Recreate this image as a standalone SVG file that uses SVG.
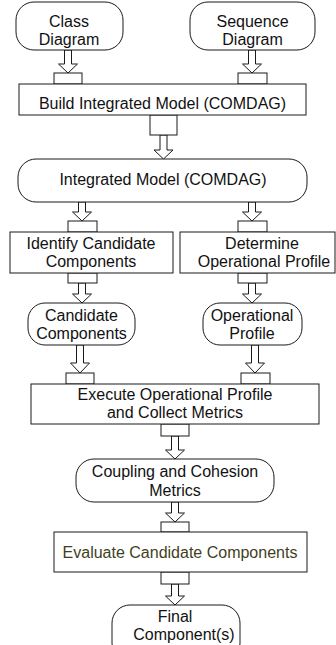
<svg xmlns="http://www.w3.org/2000/svg" width="336" height="645" viewBox="0 0 336 645">
  <style>
    .box { fill: #ffffff; stroke: #1a1a1a; stroke-width: 1; }
    .port { fill: #ffffff; stroke: #1a1a1a; stroke-width: 1; }
    .arrow { fill: #ffffff; stroke: #1a1a1a; stroke-width: 1; stroke-linejoin: miter; }
    text { font-family: "Liberation Sans", Arial, sans-serif; font-size: 16px; fill: #111111; text-anchor: middle; }
    text.olive { fill: #3f3f1e; }
  </style>
  <rect x="0" y="0" width="336" height="645" fill="#ffffff"/>

  <!-- block arrows between steps -->
  <g id="connectors">
    <polygon class="arrow" points="64.5,50 71.5,50 71.5,64 77.5,64 68,73 58.5,64 64.5,64"/>
    <polygon class="arrow" points="248.5,50 255.5,50 255.5,64 261.5,64 252,73 242.5,64 248.5,64"/>
    <polygon class="arrow" points="160,135 167,135 167,150 173,150 163.5,159 154,150 160,150"/>
    <polygon class="arrow" points="78.5,202 85.5,202 85.5,212 91.5,212 82,221 72.5,212 78.5,212"/>
    <polygon class="arrow" points="248.5,202 255.5,202 255.5,212 261.5,212 252,221 242.5,212 248.5,212"/>
    <polygon class="arrow" points="78.5,283 85.5,283 85.5,294 91.5,294 82,303 72.5,294 78.5,294"/>
    <polygon class="arrow" points="248.5,283 255.5,283 255.5,294 261.5,294 252,303 242.5,294 248.5,294"/>
    <polygon class="arrow" points="76.5,345 83.5,345 83.5,363 89.5,363 80,373 70.5,363 76.5,363"/>
    <polygon class="arrow" points="251.5,345 258.5,345 258.5,363 264.5,363 255,373 245.5,363 251.5,363"/>
    <polygon class="arrow" points="171.5,436 178.5,436 178.5,450 184.5,450 175,459 165.5,450 171.5,450"/>
    <polygon class="arrow" points="171.5,502 178.5,502 178.5,513 184.5,513 175,522 165.5,513 171.5,513"/>
    <polygon class="arrow" points="171.5,584 178.5,584 178.5,596 184.5,596 175,605 165.5,596 171.5,596"/>
  </g>

  <g id="class-diagram">
    <rect class="box" x="16" y="2" width="107" height="48" rx="18" ry="18"/>
    <text x="69" y="27">Class</text>
    <text x="69" y="45">Diagram</text>
  </g>

  <g id="sequence-diagram">
    <rect class="box" x="190" y="2" width="125" height="48" rx="18" ry="18"/>
    <text x="252.5" y="27">Sequence</text>
    <text x="252.5" y="45">Diagram</text>
  </g>

  <g id="build-integrated-model">
    <rect class="port" x="54" y="73" width="28" height="11"/>
    <rect class="port" x="238" y="73" width="29" height="11"/>
    <rect class="port" x="150" y="115" width="27" height="20"/>
    <rect class="box" x="19" y="84" width="287" height="31"/>
    <text x="162.5" y="109">Build Integrated Model (COMDAG)</text>
  </g>

  <g id="integrated-model">
    <rect class="box" x="18" y="159" width="289" height="43" rx="18" ry="18"/>
    <text x="163" y="185">Integrated Model (COMDAG)</text>
  </g>

  <g id="identify-candidate-components">
    <rect class="port" x="68" y="221" width="29" height="11"/>
    <rect class="port" x="68" y="273" width="29" height="10"/>
    <rect class="box" x="10" y="232" width="163" height="41"/>
    <text x="91" y="249">Identify Candidate</text>
    <text x="91" y="267">Components</text>
  </g>

  <g id="determine-operational-profile">
    <rect class="port" x="238" y="221" width="29" height="11"/>
    <rect class="port" x="238" y="273" width="29" height="10"/>
    <rect class="box" x="180" y="232" width="155" height="41"/>
    <text x="262" y="249">Determine</text>
    <text x="264" y="267">Operational Profile</text>
  </g>

  <g id="candidate-components">
    <rect class="box" x="28" y="303" width="107" height="42" rx="17" ry="17"/>
    <text x="81.5" y="321">Candidate</text>
    <text x="81.5" y="339">Components</text>
  </g>

  <g id="operational-profile">
    <rect class="box" x="203" y="303" width="99" height="42" rx="17" ry="17"/>
    <text x="252" y="321">Operational</text>
    <text x="252" y="339">Profile</text>
  </g>

  <g id="execute-operational-profile">
    <rect class="port" x="66" y="373" width="28" height="11"/>
    <rect class="port" x="241" y="373" width="29" height="11"/>
    <rect class="port" x="161" y="424" width="28" height="12"/>
    <rect class="box" x="31" y="384" width="288" height="40"/>
    <text x="175" y="400">Execute Operational Profile</text>
    <text x="175" y="418">and Collect Metrics</text>
  </g>

  <g id="coupling-cohesion-metrics">
    <rect class="box" x="76" y="459" width="198" height="43" rx="18" ry="18"/>
    <text x="175" y="477">Coupling and Cohesion</text>
    <text x="175" y="495.5">Metrics</text>
  </g>

  <g id="evaluate-candidate-components">
    <rect class="port" x="161" y="522" width="28" height="10"/>
    <rect class="port" x="161" y="572" width="28" height="12"/>
    <rect class="box" x="54" y="532" width="253" height="40"/>
    <text class="olive" x="180" y="557.5">Evaluate Candidate Components</text>
  </g>

  <g id="final-components">
    <rect class="box" x="112" y="605" width="128" height="56" rx="18" ry="18"/>
    <text x="175" y="622">Final</text>
    <text x="184" y="640">Component(s)</text>
  </g>
</svg>
